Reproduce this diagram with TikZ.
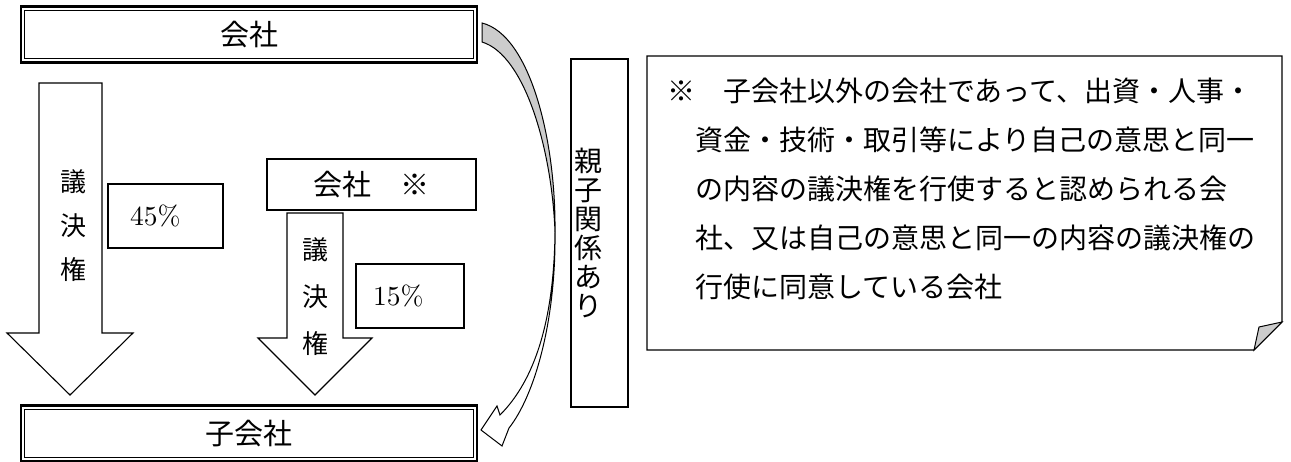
\documentclass[tikz,border=0pt]{standalone}
\usepackage{fontspec}
\newfontfamily\jp{Noto Sans CJK JP}
\usepackage{tikz}
\usetikzlibrary{positioning,calc}

\tikzset{
  dblbox/.style={draw,line width=2.5pt,minimum width=456pt,minimum height=56pt,
    font=\jp\fontsize{29}{29}\selectfont},
  plainbox/.style={draw,line width=1.5pt},
  pctbox/.style={draw,line width=1.3pt,minimum height=64pt,align=left},
  vlabel/.style={align=center,inner sep=0pt},
  blockarrow/.style={draw,fill=white,line width=1.1pt,line join=miter},
}
\newcommand{\pct}[1]{\scalebox{2.75}{#1\%}}

\begin{document}
\begin{tikzpicture}[x=1pt,y=-1pt]
\useasboundingbox (0,0) rectangle (1291,462);

% company boxes with double frame
\node[dblbox] (kaisha) at (249,34.5) {会社};
\node[dblbox] (kogaisha) at (249,433.5) {子会社};
\foreach \b in {kaisha,kogaisha}
  \draw[line width=1pt] ([shift={(5,5)}]\b.north west) rectangle ([shift={(-5,-5)}]\b.south east);

% voting-right arrows
\draw[blockarrow] (39,83) -- (102,83) -- (102,333) -- (133,333) -- (70,395) -- (7,333) -- (39,333) -- cycle;
\draw[blockarrow] (287,213) -- (343,213) -- (343,338) -- (372,338) -- (315,395) -- (258,338) -- (287,338) -- cycle;
\node[vlabel,font=\jp\fontsize{26}{44}\selectfont] (giketsuA) at (73,226) {議\\決\\権};
\node[vlabel,font=\jp\fontsize{26}{47}\selectfont] (giketsuB) at (315,297) {議\\決\\権};

\node[pctbox,text width=71pt,inner xsep=22pt] (pA) at (165.5,216) {\pct{45}};
\node[pctbox,text width=74pt,inner xsep=17pt] (pB) at (410,296) {\pct{15}};
\node[plainbox,minimum width=209pt,minimum height=51pt,font=\jp\fontsize{29}{29}\selectfont] (kaishaB) at (371.5,184.5) {会社　※};

% curved arrow
\filldraw[fill=gray!40,line width=1pt] (482,23) .. controls (530,35) and (556,140) .. (555,232)
  .. controls (552,150) and (525,55) .. (482,42) -- cycle;
\filldraw[fill=white,line width=1pt,line join=miter] (555,232) .. controls (554,320) and (535,380) .. (500,415)
  -- (497,406) -- (481,430) -- (502,446) -- (509,428)
  .. controls (535,395) and (556,320) .. (555,232) -- cycle;

\node[plainbox,minimum width=57pt,minimum height=348pt,text width=50pt,align=left,inner xsep=3.5pt,
  font=\jp\fontsize{28}{29}\selectfont] (oyako) at (599.5,233) {親\\子\\関\\係\\あ\\り};

% note with folded corner
\coordinate (nw) at (647,56);
\coordinate (se) at (1282,350);
\draw[line width=1.2pt] (nw) -- (nw -| se) -- ($(se)+(0,-28)$) -- ($(se)+(-28,0)$) -- (nw |- se) -- cycle;
\filldraw[fill=gray!40,line width=1pt] ($(se)+(-28,0)$) -- ($(se)+(-23,-23)$) -- ($(se)+(0,-28)$) -- cycle;
\node[align=left,inner sep=0pt,anchor=north west,font=\jp\fontsize{28}{49}\selectfont] (notetext) at (667,78)
  {※　子会社以外の会社であって、出資・人事・\\
   　資金・技術・取引等により自己の意思と同一\\
   　の内容の議決権を行使すると認められる会\\
   　社、又は自己の意思と同一の内容の議決権の\\
   　行使に同意している会社};
\end{tikzpicture}
\end{document}
